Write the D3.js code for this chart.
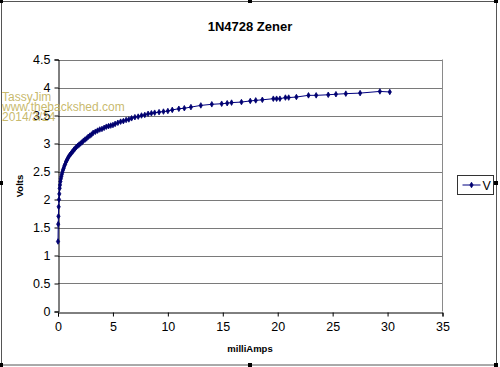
<!DOCTYPE html>
<html>
<head>
<meta charset="utf-8">
<script src="https://cdnjs.cloudflare.com/ajax/libs/d3/7.8.5/d3.min.js"></script>
<style>
body { margin: 0; background: #fff; }
text { font-family: Arial, "Liberation Sans", sans-serif; }
</style>
</head>
<body>
<script>
// readings: current (mA) and zener voltage (V)
var milliAmps = [0, 0.02, 0.04, 0.06, 0.09, 0.12, 0.15, 0.18, 0.22, 0.26, 0.3, 0.35, 0.4, 0.46, 0.52,
  0.58, 0.65, 0.72, 0.8, 0.88, 0.96, 1.05, 1.15, 1.25, 1.35, 1.45, 1.56, 1.68, 1.8, 1.92, 2.05,
  2.18, 2.32, 2.46, 2.6, 2.75, 2.9, 3.05, 3.2, 3.4, 3.6, 3.8, 4.0, 4.2, 4.4, 4.6, 4.8, 5.0, 5.2,
  5.45, 5.7, 5.95, 6.2, 6.45, 6.7, 7.0, 7.3, 7.6, 7.9, 8.2, 8.5, 8.8, 9.2, 9.6, 10.0, 10.4, 11.0,
  11.5, 12.1, 13.0, 14.0, 14.9, 15.4, 15.8, 16.7, 17.5, 18.0, 18.6, 19.6, 19.9, 20.2, 20.7, 21.0,
  21.7, 22.8, 23.5, 24.6, 25.3, 26.2, 27.5, 29.3, 30.2];
var volts = [1.25, 1.56, 1.70, 1.87, 2.0, 2.1, 2.2, 2.26, 2.32, 2.37, 2.41, 2.45, 2.49, 2.53, 2.56,
  2.60, 2.63, 2.67, 2.70, 2.73, 2.76, 2.79, 2.81, 2.84, 2.86, 2.89, 2.91, 2.94, 2.96, 2.98, 3.0,
  3.02, 3.05, 3.07, 3.09, 3.12, 3.14, 3.16, 3.19, 3.21, 3.23, 3.25, 3.26, 3.28, 3.30, 3.31, 3.32, 3.33, 3.35,
  3.37, 3.39, 3.40, 3.42, 3.43, 3.45, 3.47, 3.48, 3.50, 3.51, 3.53, 3.54, 3.55, 3.56, 3.57, 3.58, 3.60, 3.62,
  3.63, 3.65, 3.68, 3.70, 3.71, 3.72, 3.73, 3.74, 3.76, 3.77, 3.78, 3.80, 3.80, 3.80, 3.82, 3.82,
  3.83, 3.86, 3.86, 3.87, 3.88, 3.89, 3.90, 3.93, 3.92];
var xTicks = [0, 5, 10, 15, 20, 25, 30, 35];
var yTicks = [0, 0.5, 1, 1.5, 2, 2.5, 3, 3.5, 4, 4.5];
var watermark = ["TassyJim", "www.thebackshed.com", "2014/3/24"];

var W = 500, H = 367;
var plot = {left: 58, right: 442.5, top: 59.5, bottom: 311.5};

var svg = d3.select("body").append("svg")
  .attr("width", W)
  .attr("height", H);

// outer chart frame
svg.append("rect")
  .attr("x", 1.5).attr("y", 1.5)
  .attr("width", 495).attr("height", 363.5)
  .attr("fill", "#fff")
  .attr("stroke", "#555")
  .attr("stroke-width", 1);

var x = d3.scaleLinear().domain([0, 35]).range([plot.left, plot.right]);
var y = d3.scaleLinear().domain([0, 4.5]).range([plot.bottom, plot.top]);

// horizontal gridlines
svg.append("g")
  .selectAll("line")
  .data(yTicks.filter(function(d) { return d > 0; }))
  .enter().append("line")
  .attr("x1", plot.left).attr("x2", plot.right)
  .attr("y1", function(d) { return Math.round(y(d)) + 0.5; })
  .attr("y2", function(d) { return Math.round(y(d)) + 0.5; })
  .attr("stroke", "#7a7a7a")
  .attr("stroke-width", 1);

// plot area right edge
svg.append("line")
  .attr("x1", plot.right).attr("x2", plot.right)
  .attr("y1", y(4.5)).attr("y2", plot.bottom)
  .attr("stroke", "#8a8a8a");

// axes
var xAxis = svg.append("g")
  .attr("transform", "translate(0," + (Math.round(plot.bottom) + 0.5) + ")")
  .call(d3.axisBottom(x).tickValues(xTicks).tickSize(4).tickPadding(6).tickFormat(d3.format("d")));
var yAxis = svg.append("g")
  .attr("transform", "translate(" + (plot.left + 0.5) + ",0)")
  .call(d3.axisLeft(y).tickValues(yTicks).tickSize(4).tickPadding(4).tickFormat(function(d) { return String(d); }));

[xAxis, yAxis].forEach(function(a) {
  a.select(".domain").attr("stroke", "#000");
  a.selectAll(".tick line").attr("stroke", "#000");
  a.selectAll(".tick text")
    .attr("fill", "#000")
    .style("font-size", "12.5px")
    .style("font-family", "Arial, 'Liberation Sans', sans-serif");
});

// series
var pts = milliAmps.map(function(d, i) { return [d, volts[i]]; });
svg.append("path")
  .datum(pts)
  .attr("fill", "none")
  .attr("stroke", "#000080")
  .attr("stroke-width", 1)
  .attr("d", d3.line().x(function(d) { return x(d[0]); }).y(function(d) { return y(d[1]); }));

var marker = d3.symbol().type(d3.symbolDiamond).size(9);
svg.append("g")
  .selectAll("path")
  .data(pts)
  .enter().append("path")
  .attr("d", marker)
  .attr("transform", function(d) { return "translate(" + x(d[0]) + "," + y(d[1]) + ")"; })
  .attr("fill", "#000070")
  .attr("stroke", "#000070")
  .attr("stroke-width", 0.8);

// titles
svg.append("text")
  .attr("x", 250).attr("y", 31)
  .attr("text-anchor", "middle")
  .style("font-size", "13px")
  .style("font-weight", "bold")
  .text("1N4728 Zener");

svg.append("text")
  .attr("x", 250).attr("y", 352)
  .attr("text-anchor", "middle")
  .style("font-size", "9.5px")
  .style("font-weight", "bold")
  .text("milliAmps");

svg.append("text")
  .attr("transform", "translate(23,186) rotate(-90)")
  .attr("text-anchor", "middle")
  .style("font-size", "9.5px")
  .style("font-weight", "bold")
  .text("Volts");

// legend
var lg = svg.append("g").attr("transform", "translate(457.5,175.5)");
lg.append("rect")
  .attr("width", 36).attr("height", 19)
  .attr("fill", "#fff")
  .attr("stroke", "#333");
lg.append("line")
  .attr("x1", 5).attr("x2", 23)
  .attr("y1", 9.5).attr("y2", 9.5)
  .attr("stroke", "#000080");
lg.append("path")
  .attr("d", marker)
  .attr("transform", "translate(14,9.5)")
  .attr("fill", "#000070")
  .attr("stroke", "#000070")
  .attr("stroke-width", 0.8);
lg.append("text")
  .attr("x", 25).attr("y", 14)
  .style("font-size", "12.5px")
  .text("V");

// selection handles
var handles = [[1, 1], [250, 1], [496, 1], [496, 183], [496, 365], [250, 365], [1, 365], [1, 183]];
svg.append("g")
  .selectAll("rect")
  .data(handles)
  .enter().append("rect")
  .attr("x", function(d) { return d[0] - 2; })
  .attr("y", function(d) { return d[1] - 2; })
  .attr("width", 4).attr("height", 4)
  .attr("fill", "#000");

// watermark
svg.append("g")
  .selectAll("text")
  .data(watermark)
  .enter().append("text")
  .attr("x", 2)
  .attr("y", function(d, i) { return 101 + i * 10; })
  .attr("fill", "#c2b15a")
  .attr("fill-opacity", 0.9)
  .style("font-size", "12px")
  .text(function(d) { return d; });
</script>
</body>
</html>
